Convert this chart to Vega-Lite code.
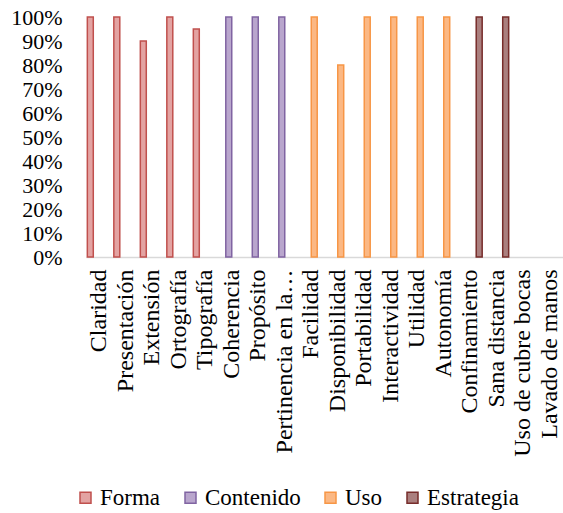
{
  "$schema": "https://vega.github.io/schema/vega-lite/v6.json",
  "autosize": {"type": "none"},
  "width": 477,
  "height": 240,
  "padding": {"left": 86, "top": 17, "right": 0, "bottom": 256},
  "background": "white",
  "config": {
    "view": {"stroke": null},
    "font": "Times New Roman",
    "axis": {"labelFont": "Times New Roman", "labelColor": "#000000", "grid": false, "ticks": false, "title": null},
    "legend": {"labelFont": "Times New Roman", "labelColor": "#000000", "labelFontSize": 23}
  },
  "data": {
    "values": [
      {"criterio": "Claridad", "serie": "Forma", "valor": 1.0},
      {"criterio": "Presentación", "serie": "Forma", "valor": 1.0},
      {"criterio": "Extensión", "serie": "Forma", "valor": 0.9},
      {"criterio": "Ortografía", "serie": "Forma", "valor": 1.0},
      {"criterio": "Tipografía", "serie": "Forma", "valor": 0.95},
      {"criterio": "Coherencia", "serie": "Contenido", "valor": 1.0},
      {"criterio": "Propósito", "serie": "Contenido", "valor": 1.0},
      {"criterio": "Pertinencia en la…", "serie": "Contenido", "valor": 1.0},
      {"criterio": "Facilidad", "serie": "Uso", "valor": 1.0},
      {"criterio": "Disponibilidad", "serie": "Uso", "valor": 0.8},
      {"criterio": "Portabilidad", "serie": "Uso", "valor": 1.0},
      {"criterio": "Interactividad", "serie": "Uso", "valor": 1.0},
      {"criterio": "Utilidad", "serie": "Uso", "valor": 1.0},
      {"criterio": "Autonomía", "serie": "Uso", "valor": 1.0},
      {"criterio": "Confinamiento", "serie": "Estrategia", "valor": 1.0},
      {"criterio": "Sana distancia", "serie": "Estrategia", "valor": 1.0},
      {"criterio": "Uso de cubre bocas", "serie": "Estrategia", "valor": null},
      {"criterio": "Lavado de manos", "serie": "Estrategia", "valor": null}
    ]
  },
  "mark": {"type": "bar", "strokeWidth": 1.5},
  "encoding": {
    "x": {
      "field": "criterio",
      "type": "nominal",
      "sort": null,
      "scale": {
        "domain": ["Claridad", "Presentación", "Extensión", "Ortografía", "Tipografía", "Coherencia", "Propósito", "Pertinencia en la…", "Facilidad", "Disponibilidad", "Portabilidad", "Interactividad", "Utilidad", "Autonomía", "Confinamiento", "Sana distancia", "Uso de cubre bocas", "Lavado de manos"],
        "paddingInner": 0.1,
        "paddingOuter": 0.05
      },
      "axis": {
        "labelAngle": -90,
        "labelFontSize": 24,
        "labelPadding": 12,
        "labelLimit": 300,
        "domainColor": "#d9d9d9",
        "domainWidth": 1.5
      }
    },
    "xOffset": {
      "field": "serie",
      "type": "nominal",
      "scale": {"domain": ["Forma", "Contenido", "Uso", "Estrategia"], "paddingInner": 0, "paddingOuter": 0}
    },
    "y": {
      "field": "valor",
      "type": "quantitative",
      "scale": {"domain": [0, 1], "nice": false},
      "axis": {
        "format": ".0%",
        "values": [0, 0.1, 0.2, 0.3, 0.4, 0.5, 0.6, 0.7, 0.8, 0.9, 1.0],
        "labelFontSize": 22,
        "labelPadding": 24,
        "domain": false
      }
    },
    "fill": {
      "field": "serie",
      "type": "nominal",
      "scale": {"domain": ["Forma", "Contenido", "Uso", "Estrategia"], "range": ["#e3a3a2", "#b9a6cd", "#fbb884", "#aa7f7e"]},
      "legend": {
        "title": null,
        "orient": "none",
        "direction": "horizontal",
        "legendX": -12,
        "legendY": 469,
        "symbolType": "square",
        "symbolSize": 121,
        "symbolStrokeWidth": 1.5,
        "labelOffset": 3,
        "columnPadding": 18
      }
    },
    "stroke": {
      "field": "serie",
      "type": "nominal",
      "scale": {"domain": ["Forma", "Contenido", "Uso", "Estrategia"], "range": ["#c0504d", "#8064a2", "#f79646", "#772c2a"]},
      "legend": {
        "title": null,
        "orient": "none",
        "direction": "horizontal",
        "legendX": -12,
        "legendY": 469,
        "symbolType": "square",
        "symbolSize": 121,
        "symbolStrokeWidth": 1.5,
        "labelOffset": 3,
        "columnPadding": 18
      }
    }
  }
}
